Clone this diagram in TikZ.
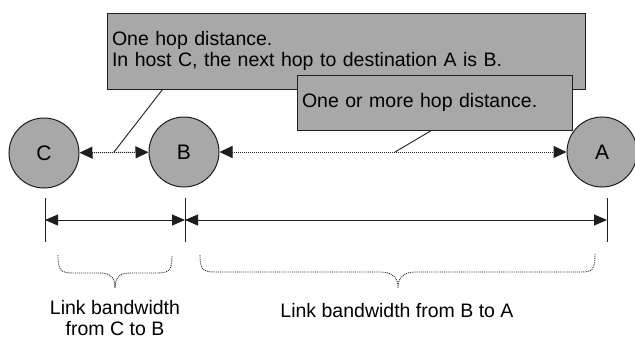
\documentclass[tikz,border=0pt]{standalone}
\usepackage{fontspec}
\setmainfont{Liberation Sans}
\usepackage{tikz}
\usetikzlibrary{arrows.meta, positioning, calc}
\definecolor{shadegray}{RGB}{168,168,168}
\definecolor{inkgray}{RGB}{30,30,30}

\begin{document}
\begin{tikzpicture}[
    x=1pt, y=-1pt,
    font=\fontsize{19.5}{21}\selectfont,
    host/.style={circle, draw=inkgray, line width=1pt, fill=shadegray, minimum size=70pt, inner sep=0pt, font=\fontsize{21}{21}\selectfont},
    note/.style={rectangle, draw=inkgray, line width=0.8pt, fill=shadegray, align=left, inner sep=5pt},
    link/.style={<->, >={Triangle[length=13pt, width=12pt]}, densely dotted, line width=1pt, inkgray},
    span/.style={<->, >={Triangle[length=13pt, width=11pt]}, line width=0.9pt, inkgray},
    pointer/.style={line width=0.9pt, inkgray},
    brace/.style={densely dotted, line width=0.9pt, inkgray}
]
\useasboundingbox (0,0) rectangle (635,341);

% Hosts
\node[host] (C) at (44,153) {C};
\node[host] (B) at (184,152) {B};
\node[host] (A) at (602,152) {A};

% Hop connections
\draw[link] (C) -- (B);
\draw[link] (B) -- (A);
\coordinate (p1) at (114,152);
\coordinate (p2) at (395,152);

% Callouts
\node[note, minimum width=478pt, minimum height=76pt, text width=468pt] (onehop) at (346,51)
    {One hop distance.\\In host C, the next hop to destination A is B.};
\node[note, minimum width=275pt, minimum height=55pt, text width=265pt] (morehop) at (434.5,102.5)
    {One or more hop distance.};
\draw[pointer] ([xshift=56pt]onehop.south west) -- (p1);
\draw[pointer] ([xshift=135pt]morehop.south west) -- (p2);

% Bandwidth spans
\coordinate (t1) at (45,220);
\coordinate (t2) at (185,220);
\coordinate (t3) at (607,220);
\foreach \t in {t1,t2,t3} {
    \draw[pointer] ($(\t)+(0,-22)$) -- ($(\t)+(0,22)$);
}
\draw[span] (t1) -- (t2);
\draw[span] (t2) -- (t3);

% Braces
\draw[brace] (58,255) .. controls (58,271) and (61,273) .. (74,273) -- (100,273)
    .. controls (111,273) and (115,278) .. (115,288)
    .. controls (115,278) and (119,273) .. (130,273) -- (156,273)
    .. controls (169,273) and (172,271) .. (172,255);
\draw[brace] (200,255) .. controls (200,270) and (203,272) .. (216,272) -- (380,272)
    .. controls (393,272) and (398,278) .. (398,288)
    .. controls (398,278) and (403,272) .. (416,272) -- (580,272)
    .. controls (593,272) and (595,270) .. (595,253);

% Labels
\node[align=center, inner sep=1pt, font=\fontsize{19.5}{21.5}\selectfont] (bwcb) at (115,318) {Link bandwidth\\from C to B};
\node (bwba) at (397,311) {Link bandwidth from B to A};
\end{tikzpicture}
\end{document}
